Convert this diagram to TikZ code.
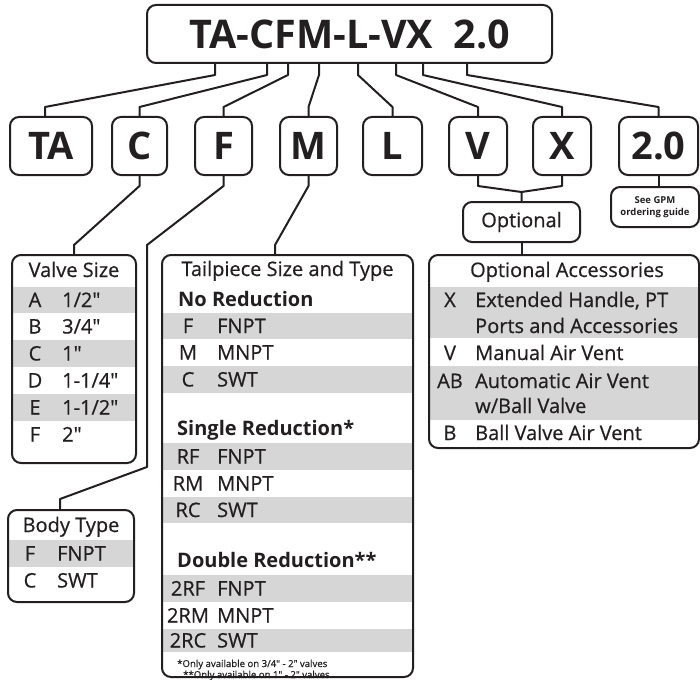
\documentclass[tikz,border=0pt]{standalone}
\usepackage{fontspec}
\setmainfont{Open Sans}[Ligatures=TeXOff, UprightFeatures={FakeBold=0.6}]
\usetikzlibrary{calc}
\definecolor{ink}{HTML}{231F20}
\definecolor{band}{HTML}{D6D6D6}
\tikzset{
  frame/.style={draw=ink, line width=2pt, rounded corners=9pt, inner sep=0pt},
  link/.style={draw=ink, line width=2pt, line join=round},
  big/.style={font=\fontsize{38}{40}\selectfont\bfseries, text=ink},
  letter/.style={frame, big, minimum width=57pt, minimum height=58pt},
  txt/.style={font=\fontsize{20}{24}\selectfont, text=ink, inner sep=0pt, anchor=base},
  head/.style={font=\fontsize{20}{24}\selectfont\bfseries, text=ink, inner sep=0pt, anchor=base west},
  note/.style={font=\fontsize{9.6}{10}\selectfont, text=ink, inner sep=0pt, anchor=base west}
}
\newcommand\rowtxt[6]{%
  \node[txt] (#1c) at (#2,#4) {#5};
  \node[txt, anchor=base west] (#1d) at (#3,#4) {#6};}
\newcommand\graybar[4]{\fill[band] (#1,#3) rectangle (#2,#4);}
\begin{document}
\begin{tikzpicture}[x=1pt,y=-1pt]
\useasboundingbox (0,0) rectangle (700,679);

% ---------- gray bands ----------
% Valve size
\graybar{12}{136}{287}{313}
\graybar{12}{136}{340}{367}
\graybar{12}{136}{394}{421}
% Tailpiece
\graybar{162}{413}{313}{339}
\graybar{162}{413}{366}{393}
\graybar{162}{413}{443}{470}
\graybar{162}{413}{497}{523}
\graybar{162}{413}{575}{602}
\graybar{162}{413}{629}{652}
% Accessories
\graybar{429}{699}{287}{338}
\graybar{429}{699}{366}{420}
% Body
\graybar{8}{134}{540}{567}

% ---------- top ----------
\node[frame, big, font=\fontsize{39.5}{40}\selectfont\bfseries, minimum width=405pt, minimum height=58pt] (main) at (349.5,34) {TA-CFM-L-VX~~2.0};

\node[letter, minimum width=82pt] (TA) at (51,146) {TA};
\node[letter, minimum width=55pt] (C) at (139.5,146) {C};
\node[letter] (F) at (223.5,146) {F};
\node[letter] (M) at (308.5,146) {M};
\node[letter, minimum width=59pt] (L) at (392.5,146) {L};
\node[letter, minimum width=58pt] (V) at (478,146) {V};
\node[letter, minimum width=58pt] (X) at (562,146) {X};
\node[letter, minimum width=79pt] (two) at (658.5,146) {2.0};

\node[frame, txt, anchor=center, minimum width=117pt, minimum height=40pt] (opt) at (521.5,222) {Optional};
\node[frame, anchor=center, align=center, text=ink, font=\fontsize{9.5}{12}\selectfont\bfseries, minimum width=88pt, minimum height=40pt] (gpm) at (655,207) {See GPM\\ordering guide};

% ---------- table frames ----------
\node[frame, minimum width=124pt, minimum height=208pt] (valve) at (74,359) {};
\node[frame, minimum width=251pt, minimum height=422pt] (tail) at (287.5,466) {};
\node[frame, minimum width=270pt, minimum height=193pt] (acc) at (564,351.5) {};
\node[frame, minimum width=126pt, minimum height=92pt] (body) at (71,556) {};

% ---------- Valve size ----------
\node[txt] (vsT) at (74,277) {Valve Size};
\rowtxt{vA}{35}{62}{307}{A}{1/2"}
\rowtxt{vB}{35}{62}{333.5}{B}{3/4"}
\rowtxt{vC}{35}{62}{360.5}{C}{1"}
\rowtxt{vD}{35}{62}{387.5}{D}{1-1/4"}
\rowtxt{vE}{35}{62}{414.5}{E}{1-1/2"}
\rowtxt{vF}{35}{62}{441.5}{F}{2"}

% ---------- Tailpiece ----------
\node[txt] (tT) at (287.5,276) {Tailpiece Size and Type};
\node[head] (tH1) at (178,306) {No Reduction};
\rowtxt{tF}{188}{217}{333}{F}{FNPT}
\rowtxt{tM}{188}{217}{359.5}{M}{MNPT}
\rowtxt{tC}{188}{217}{386.5}{C}{SWT}
\node[head] (tH2) at (177,435) {Single Reduction*};
\rowtxt{tRF}{188}{217}{463.5}{RF}{FNPT}
\rowtxt{tRM}{188}{217}{490.5}{RM}{MNPT}
\rowtxt{tRC}{188}{217}{517}{RC}{SWT}
\node[head] (tH3) at (177,567) {Double Reduction**};
\rowtxt{tRRF}{188}{217}{595.5}{2RF}{FNPT}
\rowtxt{tRRM}{188}{217}{622.5}{2RM}{MNPT}
\rowtxt{tRRC}{188}{217}{647.5}{2RC}{SWT}
\node[note] (fn1) at (177,667) {*Only available on 3/4" - 2" valves};
\node[note] (fn2) at (183,678) {**Only available on 1" - 2" valves};

% ---------- Accessories ----------
\node[txt] (aT) at (567,277) {Optional Accessories};
\rowtxt{aX}{450}{475}{307}{X}{Extended Handle, PT}
\node[txt, anchor=base west] (aX2) at (475,333) {Ports and Accessories};
\rowtxt{aV}{450}{475}{360}{V}{Manual Air Vent}
\rowtxt{aAB}{450}{475}{388}{AB}{Automatic Air Vent}
\node[txt, anchor=base west] (aAB2) at (475,413) {w/Ball Valve};
\rowtxt{aB}{450}{475}{440}{B}{Ball Valve Air Vent}

% ---------- Body ----------
\node[txt] (bT) at (71,532) {Body Type};
\rowtxt{bF}{30}{57}{560.5}{F}{FNPT}
\rowtxt{bC}{30}{57}{587.5}{C}{SWT}

% ---------- connectors ----------
\draw[link] (main.south -| 215,0) -- ++(0,11) -- (45,107) -- (TA.north -| 45,0);
\draw[link] (main.south -| 267,0) -- ++(0,11) -- (C.north |- 0,107) -- (C.north);
\draw[link] (main.south -| 288,0) -- ++(0,11) -- (F.north |- 0,107) -- (F.north);
\draw[link] (main.south -| 319,0) -- ++(0,11) -- (M.north |- 0,107) -- (M.north);
\draw[link] (main.south -| 358,0) -- ++(0,11) -- (L.north |- 0,107) -- (L.north);
\draw[link] (main.south -| 396,0) -- ++(0,11) -- (V.north |- 0,107) -- (V.north);
\draw[link] (main.south -| 423,0) -- ++(0,11) -- (X.north |- 0,107) -- (X.north);
\draw[link] (main.south -| 467,0) -- ++(0,11) -- (two.north |- 0,107) -- (two.north);

\draw[link] (C.south) -- ++(0,10) -- (74,245) -- (valve.north);
\draw[link] (F.south) -- ++(0,10) -- (147,245) -- (147,467) -- (60,499) -- (body.north -| 60,0);
\draw[link] (M.south) -- ++(0,10) -- (275,245) -- (tail.north -| 275,0);
\coordinate (join) at (521.5,192);
\draw[link] (V.south) -- ++(0,10) -- (join) -- (opt.north);
\draw[link] (X.south) -- ++(0,10) -- (join);
\draw[link] (opt.south) -- (acc.north -| opt.south);
\draw[link] (two.south) -- (two.south |- gpm.north);
\end{tikzpicture}
\end{document}
